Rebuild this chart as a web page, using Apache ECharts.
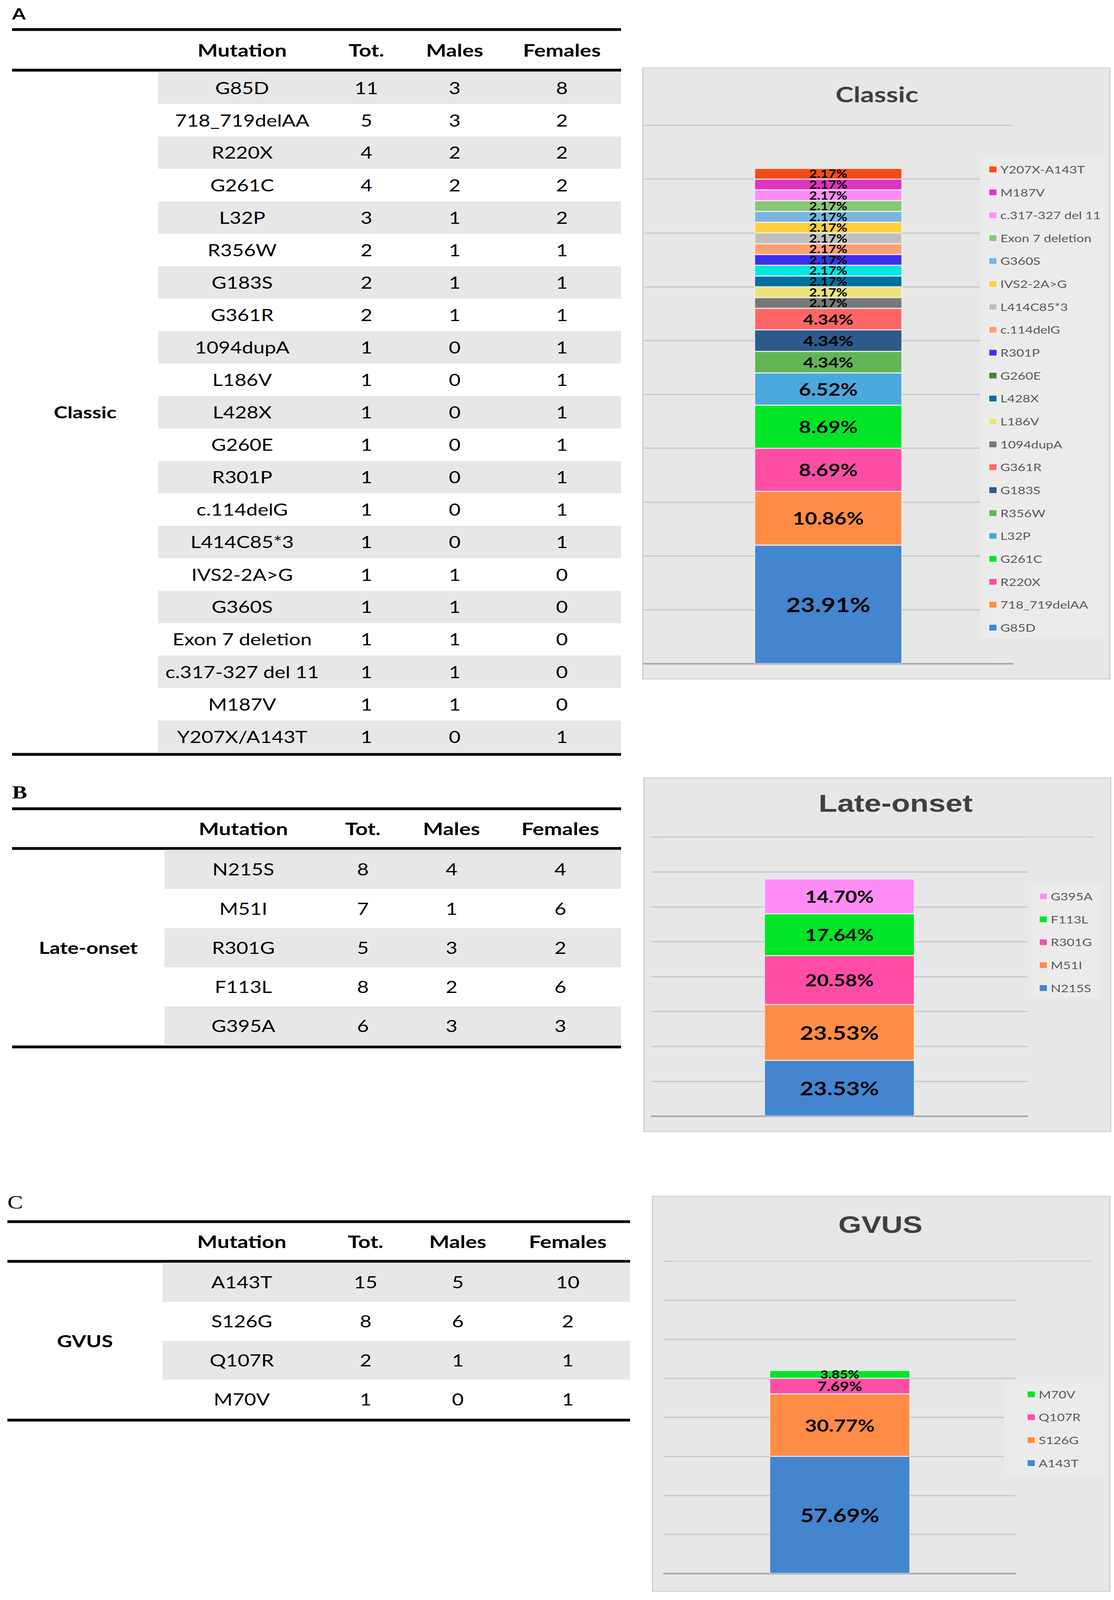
<!DOCTYPE html>
<html>
<head>
<meta charset="utf-8">
<script src="https://cdn.jsdelivr.net/npm/echarts@6/dist/echarts.min.js"></script>
<style>
html,body{margin:0;padding:0;background:#fff;overflow:hidden;}
body{width:2852px;position:relative;font-family:Lato,"Open Sans",sans-serif;color:#000;}
#root{position:absolute;left:0;top:0;width:2852px;height:5119px;transform-origin:0 0;background:#fff;}
.letter{position:absolute;line-height:1.2;white-space:nowrap;}
.tbl{position:absolute;}
.rule{height:9px;background:#000;}
.row{display:flex;align-items:stretch;}
.cell{display:flex;align-items:center;justify-content:center;white-space:nowrap;line-height:1.2;}
.hdr .cell{font-weight:bold;font-size:55px;}
.body .cell{font-size:52px;}
.shade{background:#e7e7e7;}
.group{position:absolute;display:flex;align-items:center;justify-content:center;font-weight:bold;font-size:53px;line-height:1.2;}
.chart{position:absolute;box-shadow:0 0 0 3px #cfcfcf;background:#e7e7e7;}
</style>
</head>
<body>
<div id="root">
<div class="letter" style="left:31px;top:13px;font:bold 50px Lato;line-height:1.2;">A</div>
<div class="letter" style="left:31px;top:2501px;font:bold 58px 'Liberation Serif';line-height:1.2;">B</div>
<div class="letter" style="left:19px;top:3811px;font:60px 'Liberation Serif';line-height:1.2;">C</div>
<div id="tblA" class="tbl"></div>
<div id="tblB" class="tbl"></div>
<div id="tblC" class="tbl"></div>
<div id="chartA" class="chart"></div>
<div id="chartB" class="chart"></div>
<div id="chartC" class="chart"></div>
</div>
<script>
// ---------------- DATA ----------------
const headers = ['Mutation', 'Tot.', 'Males', 'Females'];

const classicGroup = 'Classic';
const classicMutations = ['G85D','718_719delAA','R220X','G261C','L32P','R356W','G183S','G361R','1094dupA','L186V','L428X','G260E','R301P','c.114delG','L414C85*3','IVS2-2A>G','G360S','Exon 7 deletion','c.317-327 del 11','M187V','Y207X/A143T'];
const classicTot     = [11,5,4,4,3,2,2,2,1,1,1,1,1,1,1,1,1,1,1,1,1];
const classicMales   = [3,3,2,2,1,1,1,1,0,0,0,0,0,0,0,1,1,1,1,1,0];
const classicFemales = [8,2,2,2,2,1,1,1,1,1,1,1,1,1,1,0,0,0,0,0,1];

const classicChartNames  = ['G85D','718_719delAA','R220X','G261C','L32P','R356W','G183S','G361R','1094dupA','L186V','L428X','G260E','R301P','c.114delG','L414C85*3','IVS2-2A>G','G360S','Exon 7 deletion','c.317-327 del 11','M187V','Y207X-A143T'];
const classicChartCounts = [11,5,4,4,3,2,2,2,1,1,1,1,1,1,1,1,1,1,1,1,1];
const classicChartLabels = ['23.91%','10.86%','8.69%','8.69%','6.52%','4.34%','4.34%','4.34%','2.17%','2.17%','2.17%','2.17%','2.17%','2.17%','2.17%','2.17%','2.17%','2.17%','2.17%','2.17%','2.17%'];

const lateGroup = 'Late-onset';
const lateMutations = ['N215S','M51I','R301G','F113L','G395A'];
const lateTot     = [8,7,5,8,6];
const lateMales   = [4,1,3,2,3];
const lateFemales = [4,6,2,6,3];

const lateChartNames  = ['N215S','M51I','R301G','F113L','G395A'];
const lateChartCounts = [8,8,7,6,5];
const lateChartLabels = ['23.53%','23.53%','20.58%','17.64%','14.70%'];

const gvusGroup = 'GVUS';
const gvusMutations = ['A143T','S126G','Q107R','M70V'];
const gvusTot     = [15,8,2,1];
const gvusMales   = [5,6,1,0];
const gvusFemales = [10,2,1,1];

const gvusChartNames  = ['A143T','S126G','Q107R','M70V'];
const gvusChartCounts = [15,8,2,1];
const gvusChartLabels = ['57.69%','30.77%','7.69%','3.85%'];

// ---------------- STYLES ----------------
const classicColors = ['#4485cf','#ff8c45','#ff4da6','#00e626','#4ba8dc','#63b457','#2d5a8a','#ff6666','#787878','#ece278','#00709e','#00e6e0','#3e30f0','#ffa070','#c0c0c0','#ffd03c','#76b6e0','#87c878','#ff8cf5','#df33c0','#f24b17'];
const classicLegendOverride = {'G260E': '#4e7f3f'};
const lateColors = ['#4485cf','#ff8c45','#ff4da6','#00e626','#ff8cf5'];
const gvusColors = ['#4485cf','#ff8c45','#ff4da6','#00e626'];

// Fit the 2852x5119 page into the viewport the browser actually gives.
const PAGE_W = 2852, PAGE_H = 5119;
const fitY = Math.min(1, (window.innerHeight || PAGE_H) / PAGE_H);
const fitX = Math.min(1, (window.innerWidth || PAGE_W) / PAGE_W);
document.getElementById('root').style.transform = 'scale(' + fitX + ',' + fitY + ')';
document.body.style.height = Math.floor(PAGE_H * fitY) + 'px';

// ---------------- TABLES ----------------
function esc(s) { return String(s).replace(/&/g,'&amp;').replace(/</g,'&lt;').replace(/>/g,'&gt;'); }
function buildTable(id, L, group, muts, tot, males, females) {
  const el = document.getElementById(id);
  el.style.left = L.left + 'px';
  el.style.top = L.top + 'px';
  el.style.width = L.cols.reduce((a, b) => a + b, 0) + 'px';
  let html = '<div class="rule"></div>';
  html += '<div class="row hdr" style="height:' + L.headerH + 'px">';
  html += '<div class="cell" style="width:' + L.cols[0] + 'px"></div>';
  headers.forEach((h, i) => { html += '<div class="cell" style="width:' + L.cols[i + 1] + 'px">' + esc(h) + '</div>'; });
  html += '</div><div class="rule"></div><div class="body" style="position:relative">';
  muts.forEach((m, r) => {
    const sh = r % 2 === 0 ? ' shade' : '';
    html += '<div class="row" style="height:' + L.rowH + 'px">';
    html += '<div class="cell" style="width:' + L.cols[0] + 'px"></div>';
    const vals = [m, tot[r], males[r], females[r]];
    vals.forEach((v, i) => { html += '<div class="cell' + sh + '" style="width:' + L.cols[i + 1] + 'px">' + esc(v) + '</div>'; });
    html += '</div>';
  });
  html += '<div class="group" style="left:0;top:0;width:' + L.cols[0] + 'px;height:' + (L.rowH * muts.length) + 'px">' + esc(group) + '</div>';
  html += '</div><div class="rule"></div>';
  el.innerHTML = html;
}

buildTable('tblA', {left:31, top:90, cols:[374,430,206,246,303], headerH:121, rowH:103.8}, classicGroup, classicMutations, classicTot, classicMales, classicFemales);
buildTable('tblB', {left:31, top:2583, cols:[390,404,208,246,311], headerH:118, rowH:125.2}, lateGroup, lateMutations, lateTot, lateMales, lateFemales);
buildTable('tblC', {left:19, top:3904, cols:[397,406,228,244,319], headerH:118, rowH:124.75}, gvusGroup, gvusMutations, gvusTot, gvusMales, gvusFemales);

// ---------------- CHARTS ----------------
function buildChart(id, p) {
  const el = document.getElementById(id);
  Object.assign(el.style, {left: p.panel.left + 'px', top: p.panel.top + 'px', width: p.panel.width + 'px', height: p.panel.height + 'px'});
  const chart = echarts.init(el, null, {renderer: 'svg', width: p.panel.width, height: p.panel.height});
  const grids = [{left: p.grid.left, top: p.grid.top, width: p.grid.width, height: p.grid.height, containLabel: false}];
  const xAxes = [{
    type: 'category', data: [''], gridIndex: 0,
    axisLine: {show: true, lineStyle: {color: '#a9a9a9', width: 5}},
    axisTick: {show: false}, axisLabel: {show: false}
  }];
  const yAxes = [{
    type: 'value', gridIndex: 0, min: 0, max: p.max, interval: 5,
    axisLine: {show: false}, axisTick: {show: false}, axisLabel: {show: false},
    splitLine: {show: true, lineStyle: {color: '#c9c9c9', width: 4}}
  }];
  if (p.wide) {
    grids.push({left: p.wide.left, top: p.grid.top, width: p.wide.width, height: p.grid.height});
    xAxes.push({type: 'category', data: [''], gridIndex: 1, show: false});
    yAxes.push({
      type: 'value', gridIndex: 1, min: 0, max: p.max, interval: p.max,
      axisLine: {show: false}, axisTick: {show: false}, axisLabel: {show: false},
      splitLine: {show: true, lineStyle: {color: ['rgba(0,0,0,0)', '#d3d3d3'], width: 4}}
    });
  }
  const series = p.names.map((n, i) => ({
    name: n, type: 'bar', stack: 'total', barWidth: '40%',
    xAxisIndex: 0, yAxisIndex: 0, z: 5,
    data: [p.values[i]],
    itemStyle: {color: p.colors[i], borderColor: 'rgba(255,255,255,0.6)', borderWidth: 2},
    label: {
      show: true, position: 'inside', formatter: () => p.labels[i],
      fontFamily: 'Lato', fontWeight: 'bold', fontSize: p.labelSize(p.values[i]), color: '#000',
      lineHeight: p.labelSize(p.values[i])
    },
    emphasis: {disabled: true}
  }));
  const legendData = p.names.slice().reverse().map(n => {
    const o = {name: n};
    if (p.legendOverride && p.legendOverride[n]) o.itemStyle = {color: p.legendOverride[n]};
    return o;
  });
  chart.setOption({
    animation: false,
    backgroundColor: '#e7e7e7',
    graphic: [{
      type: 'text', x: p.title.x, y: p.title.y,
      style: {text: p.title.text, font: p.title.font, fill: '#404040', align: 'center', verticalAlign: 'middle', textAlign: 'center', textVerticalAlign: 'middle'}
    }],
    grid: grids, xAxis: xAxes, yAxis: yAxes,
    legend: {
      orient: 'vertical', left: p.legend.left, top: p.legend.top,
      padding: p.legend.padding, backgroundColor: '#ebebeb',
      itemWidth: 20, itemHeight: 20, itemGap: 33.3, icon: 'rect',
      selectedMode: false,
      textStyle: {fontFamily: 'Lato', fontSize: 34, color: '#595959', lineHeight: 40, padding: [0, 0, 0, 4]},
      data: legendData
    },
    series: series
  });
}

buildChart('chartA', {
  panel: {left: 1647, top: 219, width: 1193, height: 1952},
  grid: {left: 1, top: 182, width: 945, height: 1722},
  max: 50,
  title: {text: 'Classic', x: 598, y: 82, font: 'bold 70px Lato'},
  legend: {left: 862, top: 286, padding: [17, 12, 13, 22]},
  names: classicChartNames, values: classicChartCounts, labels: classicChartLabels,
  colors: classicColors, legendOverride: classicLegendOverride,
  labelSize: v => v >= 10 ? 64 : v >= 3 ? 54 : v === 2 ? 46 : 35
});

buildChart('chartB', {
  panel: {left: 1650, top: 2490, width: 1192, height: 1129},
  grid: {left: 18, top: 188, width: 962, height: 893},
  wide: {left: 47, width: 1104},
  max: 40,
  title: {text: 'Late-onset', x: 643, y: 80, font: 'bold 78px "Liberation Sans"'},
  legend: {left: 990, top: 342, padding: [16, 20, 13, 20]},
  names: lateChartNames, values: lateChartCounts, labels: lateChartLabels,
  colors: lateColors,
  labelSize: v => v >= 8 ? 60 : 52
});

buildChart('chartC', {
  panel: {left: 1672, top: 3829, width: 1168, height: 1261},
  grid: {left: 28, top: 206, width: 900, height: 999},
  wide: {left: 44, width: 1079},
  max: 40,
  title: {text: 'GVUS', x: 582, y: 89, font: 'bold 76px "Liberation Sans"'},
  legend: {left: 899, top: 597, padding: [15, 61, 15, 58]},
  names: gvusChartNames, values: gvusChartCounts, labels: gvusChartLabels,
  colors: gvusColors,
  labelSize: v => v >= 15 ? 60 : v >= 8 ? 53 : v === 2 ? 41 : 36
});
</script>
</body>
</html>
